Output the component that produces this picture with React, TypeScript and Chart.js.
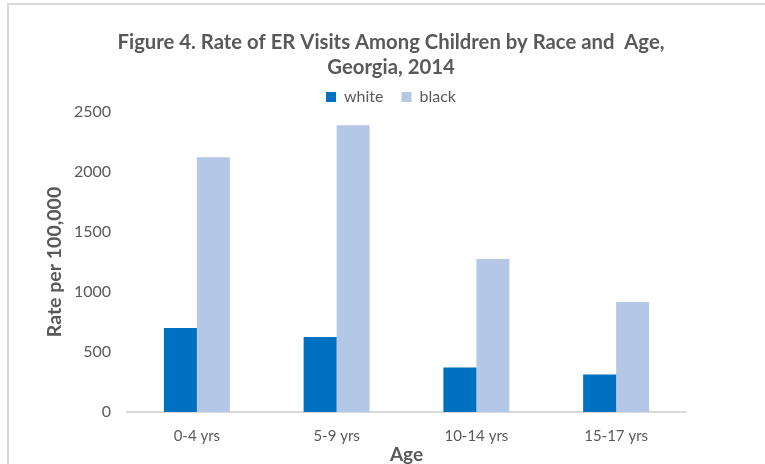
import React, { useEffect, useRef } from "react";
import { Chart, registerables } from "chart.js";

Chart.register(...registerables);

// Age groups and ER visit rates per 100,000 children, Georgia 2014
const ageGroups = ["0-4 yrs", "5-9 yrs", "10-14 yrs", "15-17 yrs"];
const whiteRates = [700, 625, 370, 312];
const blackRates = [2122, 2390, 1276, 916];
const yTicks = [0, 500, 1000, 1500, 2000, 2500];

const TEXT = "#595959";
const FONT = "Lato, 'Liberation Sans', sans-serif";

export default function App() {
  const canvasRef = useRef<HTMLCanvasElement | null>(null);

  useEffect(() => {
    const canvas = canvasRef.current;
    if (!canvas) return;
    const chart = new Chart(canvas, {
      type: "bar",
      data: {
        labels: ageGroups,
        datasets: [
          {
            label: "white",
            data: whiteRates,
            backgroundColor: "#0070C0",
            barPercentage: 1,
            categoryPercentage: 0.472,
          },
          {
            label: "black",
            data: blackRates,
            backgroundColor: "#B4C7E7",
            barPercentage: 1,
            categoryPercentage: 0.472,
          },
        ],
      },
      options: {
        animation: false,
        responsive: false,
        maintainAspectRatio: false,
        layout: { padding: { top: 20, left: 96, right: 79, bottom: 0 } },
        plugins: {
          title: {
            display: true,
            text: [
              "Figure 4. Rate of ER Visits Among Children by Race and  Age,",
              "Georgia, 2014",
            ],
            color: TEXT,
            font: { family: FONT, size: 20.3, weight: "bold", lineHeight: 25 / 20.3 },
            padding: { top: 10, bottom: -9 },
          },
          legend: {
            display: true,
            position: "top",
            maxHeight: 41,
            labels: {
              color: TEXT,
              font: { family: FONT, size: 16 },
              boxWidth: 10,
              boxHeight: 10,
              padding: 18,
            },
          },
          tooltip: { enabled: false },
        },
        scales: {
          x: {
            grid: { display: false, drawTicks: false },
            border: { display: true, color: "#d9d9d9", width: 2 },
            ticks: { color: TEXT, font: { family: FONT, size: 15 }, padding: 15 },
            title: {
              display: true,
              text: "Age",
              color: TEXT,
              font: { family: FONT, size: 19, weight: "bold", lineHeight: 1 },
              padding: { top: 0, bottom: 0 },
            },
            afterFit: (scale: any) => {
              scale.height = 52;
            },
          },
          y: {
            min: 0,
            max: 2500,
            afterBuildTicks: (scale: any) => {
              scale.ticks = yTicks.map((v) => ({ value: v }));
            },
            grid: { display: false, drawTicks: false },
            border: { display: false },
            ticks: {
              color: TEXT,
              font: { family: FONT, size: 16 },
              padding: 16,
              callback: (v: any) => String(v),
            },
            title: {
              display: true,
              text: "Rate per 100,000",
              color: TEXT,
              font: { family: FONT, size: 19.5, weight: "bold" },
              padding: { top: -53, bottom: 0 },
            },
            afterFit: (scale: any) => {
              // narrow axis box; tick labels are allowed to extend past its left edge
              scale.width = 31;
              scale._computeLabelArea = () => undefined;
            },
          },
        },
      },
    });
    return () => chart.destroy();
  }, []);

  return (
    <div
      style={{
        position: "fixed",
        left: 0,
        top: 0,
        width: 765,
        height: 464,
        overflow: "hidden",
        background: "#ffffff",
      }}
    >
      <div
        style={{
          position: "absolute",
          left: 7,
          top: 3,
          width: 800,
          height: 500,
          borderTop: "2px solid #d9d9d9",
          borderLeft: "2px solid #d9d9d9",
        }}
      />
      <canvas
        ref={canvasRef}
        width={765}
        height={464}
        style={{ position: "absolute", left: 0, top: 0, width: 765, height: 464 }}
      />
    </div>
  );
}
